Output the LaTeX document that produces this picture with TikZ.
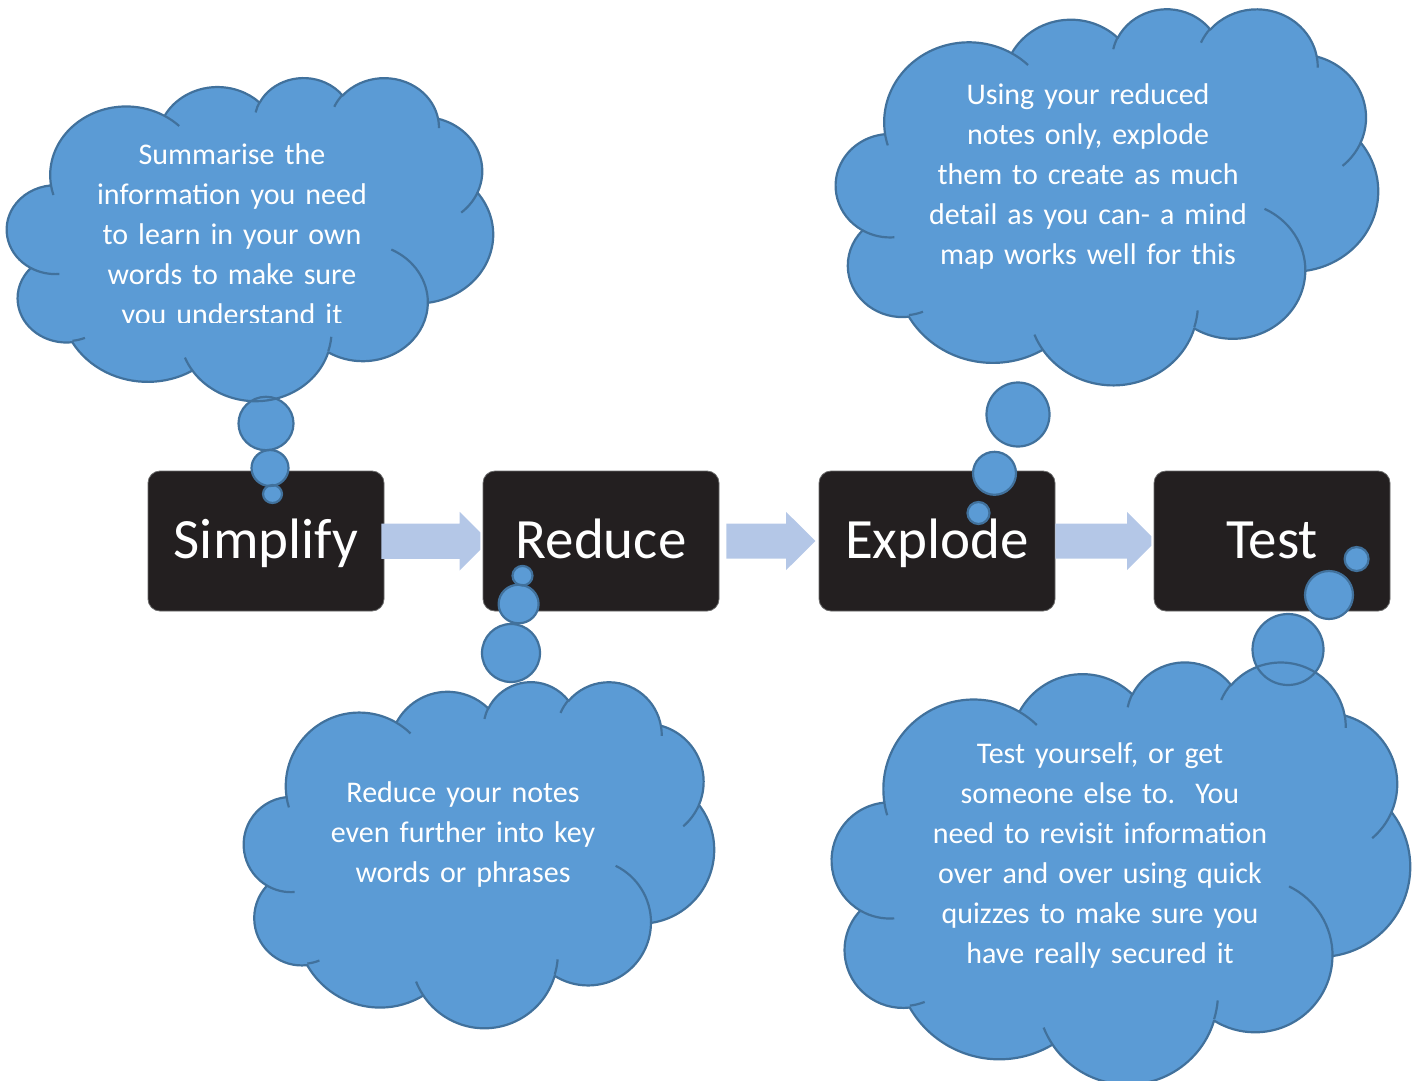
\documentclass[tikz,border=0pt]{standalone}
\usepackage{fontspec}
\setmainfont{Carlito}
\usetikzlibrary{calc}
\definecolor{cloudfill}{HTML}{5B9BD5}
\definecolor{cloudedge}{HTML}{41719C}
\definecolor{boxfill}{HTML}{231F20}
\definecolor{boxedge}{HTML}{6A6A6A}
\definecolor{arrowblue}{HTML}{B4C7E7}
\tikzset{
  stepbox/.style={rectangle, rounded corners=12pt, fill=boxfill, draw=boxedge, line width=0.8pt,
    minimum width=236pt, minimum height=140pt, inner sep=0pt, text=white,
    font=\fontsize{57}{68}\selectfont, text height=40pt, text depth=6pt},
  flowarrow/.style={fill=arrowblue},
  cloudfillst/.style={fill=cloudfill},
  cloudstroke/.style={draw=cloudedge, line width=2.2pt, line join=round},
  cloudtext/.style={anchor=base, text width=440pt, align=center, inner sep=0pt, text=white,
    font=\fontsize{30}{40}\selectfont}
}
% Office-style cloud outline inside a box (x0,y0,w,h), y pointing down
\newcommand\cloudpath[5]{%
  \begin{scope}[shift={(#1,#2)},xscale=#3/432,yscale=#4/432]
  \path[#5] (39.00,143.70)
    arc[start angle=172.25,delta angle=128.12,x radius=67.53,y radius=91.90]
    arc[start angle=-152.02,delta angle=106.58,x radius=53.33,y radius=72.67]
    arc[start angle=-153.48,delta angle=116.16,x radius=43.65,y radius=59.45]
    arc[start angle=-139.71,delta angle=129.50,x radius=48.57,y radius=65.95]
    arc[start angle=-74.77,delta angle=97.98,x radius=53.33,y radius=72.73]
    arc[start angle=-37.53,delta angle=119.39,x radius=67.75,y radius=92.20]
    arc[start angle=0.46,delta angle=121.51,x radius=57.85,y radius=78.67]
    arc[start angle=16.85,delta angle=129.38,x radius=67.52,y radius=92.15]
    arc[start angle=58.98,delta angle=91.22,x radius=77.20,y radius=105.43]
    arc[start angle=83.31,delta angle=139.82,x radius=43.60,y radius=59.18]
    arc[start angle=120.35,delta angle=143.76,x radius=43.45,y radius=59.45]
    -- cycle;
  \end{scope}}
\newcommand\cloudcreases[5]{%
  \begin{scope}[shift={(#1,#2)},xscale=#3/432,yscale=#4/432]
  \path[#5]
    (46.52,263.45) arc[start angle=85.55,delta angle=34.80,x radius=43.45,y radius=59.45]
    (69.28,348.99) arc[start angle=68.24,delta angle=15.07,x radius=43.60,y radius=59.18]
    (164.85,392.68) arc[start angle=146.23,delta angle=12.24,x radius=67.52,y radius=92.15]
    (288.27,347.51) arc[start angle=4.74,delta angle=12.11,x radius=67.52,y radius=92.15]
    (341.59,230.73) arc[start angle=-64.02,delta angle=64.48,x radius=57.85,y radius=78.67]
    (418.22,154.63) arc[start angle=23.21,delta angle=26.43,x radius=53.33,y radius=72.73]
    (383.21,55.79) arc[start angle=-10.21,delta angle=11.03,x radius=48.57,y radius=65.95]
    (290.90,39.83) arc[start angle=-156.29,delta angle=16.58,x radius=48.57,y radius=65.95]
    (221.00,47.35) arc[start angle=-167.73,delta angle=14.25,x radius=43.65,y radius=59.45]
    (140.07,52.02) arc[start angle=-59.63,delta angle=13.89,x radius=67.53,y radius=91.90]
    (41.26,157.86) arc[start angle=163.20,delta angle=9.05,x radius=67.53,y radius=91.90];
  \end{scope}}
\begin{document}
\begin{tikzpicture}[x=1pt,y=-1pt]
\useasboundingbox (0,0) rectangle (1421,1081);

% process boxes
\node[stepbox] (simplify) at (266,541) {Simplify};
\node[stepbox] (reduce)   at (601,541) {Reduce};
\node[stepbox] (explode)  at (937,541) {Explode};
\node[stepbox] (test)     at (1272,541) {Test};

% block arrows between boxes
\path[flowarrow] ($(simplify.east)+(-3,-17.5)$) -- ++(78.3,0) -- ++(0,-11.6) -- ++(20.7,20.7)
  -- ++(0,17.2) -- ++(-20.7,20.7) -- ++(0,-11.6) -- ++(-78.3,0) -- cycle;
\path[flowarrow] ($(reduce.east)+(7,-17.5)$) -- ++(59.7,0) -- ++(0,-11.6) -- ++(29.3,29.1)
  -- ++(-29.3,29.1) -- ++(0,-11.6) -- ++(-59.7,0) -- cycle;
\path[flowarrow] ($(explode.east)+(0,-17.5)$) -- ++(71.7,0) -- ++(0,-11.6) -- ++(24.3,24.3)
  -- ++(0,9.6) -- ++(-24.3,24.3) -- ++(0,-11.6) -- ++(-71.7,0) -- cycle;

% ---------- cloud 1 (Simplify) ----------
\cloudpath{7}{77}{486}{323}{cloudfillst}
\fill[cloudfill] (266,423.5) ellipse[x radius=27.5,y radius=26.7];
\fill[cloudfill] (270,468) ellipse[x radius=18.5,y radius=18];
\fill[cloudfill] (272.5,494) ellipse[x radius=9.5,y radius=9];
\cloudpath{7}{77}{486}{323}{cloudstroke}
\cloudcreases{7}{77}{486}{323}{cloudstroke}
\draw[cloudstroke] (266,423.5) ellipse[x radius=27.5,y radius=26.7];
\draw[cloudstroke] (270,468) ellipse[x radius=18.5,y radius=18];
\draw[cloudstroke] (272.5,494) ellipse[x radius=9.5,y radius=9];
\begin{scope}
\clip (0,0) rectangle (1421,322);
\node[cloudtext] (simplifytext) at (232,164) {Summarise the\\information you need\\to learn in your own\\words to make sure\\you understand it};
\end{scope}

% ---------- cloud 2 (Explode) ----------
\cloudpath{836}{8}{542}{376}{cloudfillst}
\fill[cloudfill] (1018,414.5) ellipse[x radius=31.5,y radius=32];
\fill[cloudfill] (994.5,473.3) ellipse[x radius=21.5,y radius=21.5];
\fill[cloudfill] (978.5,513) ellipse[x radius=11,y radius=11];
\cloudpath{836}{8}{542}{376}{cloudstroke}
\cloudcreases{836}{8}{542}{376}{cloudstroke}
\draw[cloudstroke] (1018,414.5) ellipse[x radius=31.5,y radius=32];
\draw[cloudstroke] (994.5,473.3) ellipse[x radius=21.5,y radius=21.5];
\draw[cloudstroke] (978.5,513) ellipse[x radius=11,y radius=11];
\node[cloudtext] (explodetext) at (1088,104) {Using your reduced\\notes only, explode\\them to create as much\\detail as you can- a mind\\map works well for this};

% ---------- cloud 3 (Reduce) ----------
\cloudpath{244}{681}{470}{346}{cloudfillst}
\fill[cloudfill] (522.5,575.7) ellipse[x radius=10,y radius=9.8];
\fill[cloudfill] (518.6,604) ellipse[x radius=20,y radius=19.3];
\fill[cloudfill] (511,653) ellipse[x radius=29,y radius=29];
\cloudpath{244}{681}{470}{346}{cloudstroke}
\cloudcreases{244}{681}{470}{346}{cloudstroke}
\draw[cloudstroke] (522.5,575.7) ellipse[x radius=10,y radius=9.8];
\draw[cloudstroke] (518.6,604) ellipse[x radius=20,y radius=19.3];
\draw[cloudstroke] (511,653) ellipse[x radius=29,y radius=29];
\node[cloudtext] (reducetext) at (463,802) {Reduce your notes\\even further into key\\words or phrases};

% ---------- cloud 4 (Test) ----------
\cloudpath{832}{661}{578}{422}{cloudfillst}
\fill[cloudfill] (1356.6,559) ellipse[x radius=12,y radius=12];
\fill[cloudfill] (1329,595) ellipse[x radius=24,y radius=24];
\fill[cloudfill] (1288,649.5) ellipse[x radius=35.5,y radius=35.5];
\cloudpath{832}{661}{578}{422}{cloudstroke}
\cloudcreases{832}{661}{578}{422}{cloudstroke}
\draw[cloudstroke] (1356.6,559) ellipse[x radius=12,y radius=12];
\draw[cloudstroke] (1329,595) ellipse[x radius=24,y radius=24];
\draw[cloudstroke] (1288,649.5) ellipse[x radius=35.5,y radius=35.5];
\node[cloudtext] (testtext) at (1100,763) {Test yourself, or get\\someone else to.\ \ You\\need to revisit information\\over and over using quick\\quizzes to make sure you\\have really secured it};
\end{tikzpicture}
\end{document}
